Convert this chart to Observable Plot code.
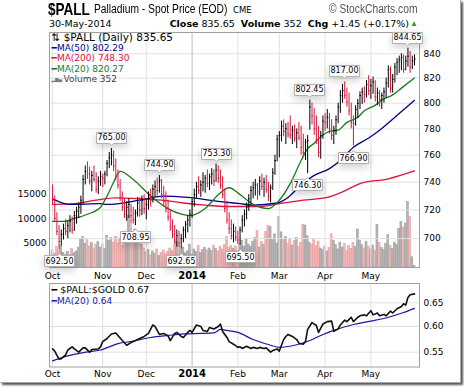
<!DOCTYPE html>
<html><head><meta charset="utf-8">
<script src="https://cdn.jsdelivr.net/npm/d3@7"></script>
<script src="https://cdn.jsdelivr.net/npm/@observablehq/plot@0.6"></script>
<style>
body{margin:0;background:#fff;}
#wrap{position:relative;width:464px;height:387px;overflow:hidden;}
#frame{position:absolute;left:0;top:0;width:460px;height:382px;background:#fff;border-right:1px solid #aaa;border-bottom:1px solid #aaa;box-shadow:2px 2px 2px #555;}
.abs{position:absolute;white-space:nowrap;}
.nar{font-family:"Liberation Sans",Arial,sans-serif;transform:scaleX(0.82);transform-origin:0 0;}
.dv{font-family:"DejaVu Sans",Verdana,sans-serif;}
svg{position:absolute;left:0;}
</style></head>
<body><div id="wrap"><div id="frame"></div>
<div class="abs nar" style="left:48px;top:0px;font-size:16.5px;font-weight:bold;">$PALL</div>
<div class="abs nar" style="left:94px;top:2px;font-size:12.5px;">Palladium - Spot Price (EOD)</div>
<div class="abs dv" style="left:233px;top:5px;font-size:8.5px;">CME</div>
<div class="abs nar" style="left:329px;top:2px;font-size:12.5px;color:#555;">© StockCharts.com</div>
<div class="abs dv" style="left:49px;top:18px;font-size:9.5px;">30-May-2014</div>
<div class="abs dv" style="left:0;width:409px;text-align:right;top:18px;font-size:9.5px;"><b>Close</b> 835.65 &nbsp;<b>Volume</b> 352 &nbsp;<b>Chg</b> +1.45 (+0.17%)</div>
<div class="abs" style="left:410px;top:19px;font-size:8px;color:#2a9a2a;">▲</div>
</div>
<script>
// ---- data ----
const monthTicks = [0, 23, 43, 64, 85, 104, 125, 146];
const monthLabels = ["Oct", "Nov", "Dec", "2014", "Feb", "Mar", "Apr", "May"];
const priceTicks = [700, 720, 740, 760, 780, 800, 820, 840];
const volTicks = [5000, 10000, 15000];
const ratioTicks = [0.55, 0.60, 0.65];

// daily high (Oct 1 2013 .. May 30 2014, trading days)
const high = [
 738,730,718,709,706,710,713,712,716,715,719,722,725,730,745,752,755,751,748,752,747,744,748,
 746,748,756,762,765,763,757,749,742,733,728,726,728,724,722,720,729,729,730,731,
 727,733,735,738,741,743,744.9,742,737,733,727,720,713,709,706,705,703,708,712,716,720,
 728,735,740,744,741,747,745,749,746,750,749,753.3,752,749,744,735,726,718,713,710,708,
 705,708,716,720,725,731,737,740,742,739,744,746,743,745,740,738,750,760,775,
 778,786,787,784,785,790,782,783,780,785,782,776,772,775,802.45,800,796,790,782,778,790,
 792,795,792,787,782,790,800,810,815,817,812,808,800,790,798,803,809,812,813,818,822,
 819,821,818,812,810,808,812,820,830,829,823,832,836,838,840,839,838,844.65,842,838,839];
const low = [
 724,712,702,692.5,695,699,702,700,704,703,705,710,714,717,724,738,742,738,733,740,732,731,737,
 736,738,744,750,752,748,741,735,726,719,714,712,714,711,710,708.95,715,715,716,717,
 713,720,722,725,729,730,732,728,722,718,712,705,700,696,694,694,692.65,697,700,704,708,
 714,722,728,731,729,733,732,736,734,738,737,740,739,735,728,718,710,703,699,697,698,
 696,695.5,704,708,713,719,724,728,730,727,730,734,729,732,726,725,734,745,755,
 758,770,774,768,773,772,768,770,765,771,760,758,756,746.3,779,783,775,768,758,757,772,
 778,780,776,771,768,775,784,792,800,803,797,790,780,766.9,782,788,795,799,800,804,806,
 803,807,801,798,797,795,800,804,812,808,808,816,822,824,826,824,826,829,824,827,830];
const close = [
 727,714,705,698,703,707,705,709,712,706,716,719,722,727,742,748,746,741,745,742,735,741,744,
 743,746,754,758,760,752,744,738,729,722,717,722,724,716,713,718,725,720,727,721,
 724,730,727,735,737,734,741,731,726,721,715,708,703,699,702,697,700,706,710,713,717,
 726,731,737,734,738,740,743,739,744,746,741,749,743,738,731,721,713,707,702,705,701,
 699,706,713,717,722,728,734,736,738,733,741,737,740,735,730,736,747,756,772,
 775,782,778,780,776,775,779,773,777,773,766,762,770,771,797,790,780,772,762,775,786,
 785,789,780,775,779,787,797,806,810,806,801,794,785,784,795,800,806,809,807,815,810,
 814,817,805,808,803,806,809,816,827,812,819,829,833,835,837,827,834,838,829,834.2,835.65];
const volume = [
 3500,2800,4200,3600,4500,3000,2600,3200,2500,3800,2900,3300,4100,
 5800,6200,4800,5600,4300,5000,3900,4600,5200,4100,4700,3800,6500,5400,
 6000,5100,6300,4900,5800,4500,5300,6100,
 10600,9200,6600,7800,5200,6400,4700,3900,
 3100,3600,2500,3300,2800,3700,2400,3000,3500,2700,3200,3900,3400,4600,
 5200,4400,3600,4100,2900,3300,4700,2600,
 3700,3200,4400,3000,3600,4000,3500,3900,3400,4500,3800,3300,4200,3700,4600,6200,4000,4400,3800,4300,3500,4800,
 5500,4300,5900,4700,4200,5300,6000,7500,4100,5200,4600,7300,8500,8300,5600,6800,4900,10300,
 7200,5600,6300,4800,5900,4500,5400,6000,4200,5100,8700,8600,6400,5000,4700,5800,4400,5300,3900,
 3600,4300,3300,4000,6800,5500,4600,3700,5100,4100,4800,3400,4400,3800,5000,4200,7800,
 5500,4600,3900,5200,4300,3700,4500,3400,8700,5000,4000,3600,4800,6600,4400,3800,5100,4600,7900,9300,8200,9000,13400,10300,2100,352];

// moving averages read at sample days
const ma50Day = [0,8,22,25,40,51,62,77,86,92,103,108,114,120,127,132,138,145,150,157,166];
const ma50Val = [728,724,724.5,724,727,730,729,726,724.5,723.5,725,729,738,745,750,756,766,773,779,789,802.29];
const ma200Day = [0,10,20,29,40,50,60,70,80,95,104,115,126,133,141,154,166];
const ma200Val = [724,724.5,727,728.6,728,727,725,723.5,722.5,722.5,724.5,727,729,733,739,742.5,748.3];
const ma20Day = [0,5,10,16,22,25,28,31,37,45,53,59,63,70,76,81,86,92,99,104,109,114,117,120,123,127,131,135,140,143,148,151,156,160,166];
const ma20Val = [712,712,714,717,722,730,740,748,742,730,721,717,716,721,731,736,731,724,721,727,739,756,765,769,774,778,779,785,789,794,798.5,802.5,806.6,812,820.27];

// $PALL:$GOLD ratio
const ratioDay = [0,1,2,3,4,6,7,9,10,12,14,15,17,18,21,22,23,25,27,29,30,32,34,36,37,39,42,44,46,47,49,51,53,54,56,57,59,60,62,63,64,66,68,69,71,72,74,76,77,78,80,81,83,85,86,87,89,91,92,94,95,97,98,100,101,103,104,106,107,108,110,112,113,115,116,117,119,121,122,124,126,128,129,131,132,134,135,137,138,140,141,143,144,146,147,149,150,152,153,155,156,158,160,161,162,163,164,166];
const ratioVal = [0.556,0.552,0.544,0.537,0.538,0.545,0.554,0.560,0.556,0.550,0.558,0.558,0.550,0.555,0.556,0.560,0.570,0.576,0.585,0.587,0.582,0.572,0.563,0.568,0.570,0.574,0.580,0.586,0.603,0.600,0.584,0.586,0.581,0.572,0.586,0.588,0.580,0.578,0.588,0.592,0.588,0.603,0.600,0.592,0.590,0.598,0.595,0.600,0.605,0.590,0.578,0.570,0.565,0.559,0.560,0.557,0.561,0.557,0.559,0.557,0.559,0.557,0.558,0.550,0.553,0.556,0.552,0.574,0.580,0.584,0.580,0.574,0.567,0.565,0.570,0.594,0.608,0.602,0.588,0.605,0.610,0.611,0.590,0.595,0.603,0.613,0.610,0.619,0.610,0.619,0.622,0.624,0.622,0.633,0.624,0.628,0.622,0.625,0.622,0.632,0.628,0.637,0.642,0.648,0.645,0.662,0.668,0.670];
const ratioMaDay = [0,7,14,22,30,37,45,53,60,68,74,77,80,85,92,100,104,111,118,123,129,138,146,154,161,166];
const ratioMaVal = [0.534,0.543,0.549,0.554,0.566,0.571,0.578,0.582,0.585,0.586,0.587,0.594,0.592,0.588,0.574,0.563,0.559,0.563,0.572,0.582,0.592,0.604,0.611,0.619,0.629,0.638];

// annotated highs / lows
const peakDay = [27, 49, 75, 118, 134, 163];
const peakVal = [765.00, 744.90, 753.30, 802.45, 817.00, 844.65];
const troughDay = [3, 38, 59, 86, 117, 138];
const troughVal = [692.50, 708.95, 692.65, 695.50, 746.30, 766.90];

// legend texts
const mainLegend = ["⇅ $PALL (Daily) 835.65", "━MA(50) 802.29", "━MA(200) 748.30", "━MA(20) 820.27", "Volume 352"];
const ratioLegend = ["━ $PALL:$GOLD 0.67", "━MA(20) 0.64"];

// ---- build ----
const FONT = "DejaVu Sans";
const UP = "#000000", DN = "#dc143c";
const BLUE = "#00008b", RED = "#dc143c", GREEN = "#1a7a1a";
const xDomain = [-1.4, 168.3];
const bars = high.map((h, i) => ({i, hi: h, lo: low[i], cl: close[i], v: volume[i],
  up: i > 0 && close[i] >= close[i - 1]}));
const pairs = (ds, vs) => ds.map((d, k) => ({i: d, v: vs[k]}));
const ma50 = pairs(ma50Day, ma50Val), ma200 = pairs(ma200Day, ma200Val), ma20 = pairs(ma20Day, ma20Val);
const ratio = pairs(ratioDay, ratioVal), ratioMa = pairs(ratioMaDay, ratioMaVal);
const peaks = peakDay.map((d, k) => ({i: d, v: peakVal[k], t: peakVal[k].toFixed(2)}));
const troughs = troughDay.map((d, k) => ({i: d, v: troughVal[k], t: troughVal[k].toFixed(2)}));
const lab = d => monthLabels[monthTicks.indexOf(d)];
const plainTicks = monthTicks.filter(d => d !== 64);

function legend(txt, color, dx, dy, size, weight) {
  return Plot.text([txt], {frameAnchor: "top-left", text: d => d, dx, dy, fill: color,
    fontSize: size, fontFamily: FONT, textAnchor: "start", lineAnchor: "top", fontWeight: weight || "normal"});
}
function labels(data, anchor, dy) {
  if (Plot.tip) return Plot.tip(data, {x: "i", y: "v", title: "t", anchor, dy, fill: "white", stroke: "#b0b0b0",
    fontSize: 8, fontFamily: FONT, textPadding: 1, pointerSize: 4});
  return Plot.text(data, {x: "i", y: "v", text: "t", dy: anchor === "bottom" ? -10 : 10, fontSize: 8, fontFamily: FONT, stroke: "white", fill: "black"});
}
const monthAxes = (pad) => [
  Plot.axisX({ticks: plainTicks, tickFormat: lab, tickSize: 0, tickPadding: pad, label: null, fontSize: 9, fontFamily: FONT}),
  Plot.axisX({ticks: [64], tickFormat: lab, tickSize: 0, tickPadding: pad - 1, label: null, fontSize: 10, fontWeight: "bold", fontFamily: FONT})
];

const common = {width: 464, marginLeft: 49, marginRight: 45, style: {background: "transparent", maxWidth: "none"}};

// volume layer (under)
const volPlot = Plot.plot({...common, height: 285, marginTop: 32, marginBottom: 18,
  x: {domain: xDomain, axis: null},
  y: {domain: [0, 48163], axis: null},
  color: {type: "identity"},
  marks: [
    Plot.rect(bars, {x1: d => d.i - 0.45, x2: d => d.i + 0.45, y1: () => 0, y2: "v",
      fill: d => d.up ? "#b4b4b4" : "#f3b6b6", stroke: d => d.up ? "#999" : "#e39a9a", strokeWidth: 0.5}),
    Plot.axisY({ticks: volTicks, anchor: "left", tickSize: 0, tickPadding: 3, tickFormat: d => String(d), label: null, fontSize: 9, fontFamily: FONT})
  ]});

// price layer (over)
const pricePlot = Plot.plot({...common, height: 285, marginTop: 32, marginBottom: 18,
  x: {domain: xDomain, axis: null},
  y: {type: "log", domain: [680.3, 857.8], axis: null},
  color: {type: "identity"},
  marks: [
    Plot.ruleY(priceTicks, {stroke: "#e0e0e0"}),
    Plot.ruleX(plainTicks, {stroke: "#e0e0e0"}),
    Plot.ruleX([64], {stroke: "#bdbdbd"}),
    Plot.frame({stroke: "#a0a0a0"}),
    Plot.axisY({ticks: priceTicks, anchor: "right", tickSize: 0, tickPadding: 4, tickFormat: d => String(d), label: null, fontSize: 9, fontFamily: FONT}),
    ...monthAxes(5),
    Plot.line(ma200, {x: "i", y: "v", stroke: RED, strokeWidth: 1.3, curve: "monotone-x"}),
    Plot.line(ma50, {x: "i", y: "v", stroke: BLUE, strokeWidth: 1.3, curve: "monotone-x"}),
    Plot.line(ma20, {x: "i", y: "v", stroke: GREEN, strokeWidth: 1.3, curve: "monotone-x"}),
    Plot.ruleX(bars, {x: "i", y1: "lo", y2: "hi", stroke: d => d.up ? UP : DN, strokeWidth: 1}),
    Plot.ruleY(bars, {y: "cl", x1: "i", x2: d => d.i + 0.7, stroke: d => d.up ? UP : DN, strokeWidth: 1}),
    labels(peaks, "bottom", -3),
    labels(troughs, "top", 4),
    legend(mainLegend[0], "#000", 2, 1, 10.5),
    legend(mainLegend[1], BLUE, 2, 12, 9),
    legend(mainLegend[2], RED, 2, 22.5, 9),
    legend(mainLegend[3], GREEN, 2, 33, 9),
    legend("▂▆▄", "#777", 2, 45, 4.5),
    legend(mainLegend[4], "#444", 14, 43.5, 9)
  ]});

// ratio panel
const ratioPlot = Plot.plot({...common, height: 117, marginTop: 13, marginBottom: 20.5,
  x: {domain: xDomain, axis: null},
  y: {type: "log", domain: [0.523, 0.694], axis: null},
  marks: [
    Plot.ruleY(ratioTicks, {stroke: "#e0e0e0"}),
    Plot.ruleX(plainTicks, {stroke: "#e0e0e0"}),
    Plot.ruleX([64], {stroke: "#bdbdbd"}),
    Plot.frame({stroke: "#a0a0a0"}),
    Plot.axisY({ticks: ratioTicks, anchor: "right", tickSize: 0, tickPadding: 4, tickFormat: d3.format(".2f"), label: null, fontSize: 9, fontFamily: FONT}),
    ...monthAxes(4),
    Plot.line(ratioMa, {x: "i", y: "v", stroke: "#1a1aa6", strokeWidth: 1.2, curve: "monotone-x"}),
    Plot.line(ratio, {x: "i", y: "v", stroke: "#111", strokeWidth: 1.6}),
    legend(ratioLegend[0], "#000", 2, 3, 9.5),
    legend(ratioLegend[1], "#1a1aa6", 2, 14, 9)
  ]});

const wrap = document.getElementById("wrap");
volPlot.style.top = "0px"; pricePlot.style.top = "0px"; ratioPlot.style.top = "270px";
wrap.appendChild(volPlot); wrap.appendChild(pricePlot); wrap.appendChild(ratioPlot);
</script></body></html>
